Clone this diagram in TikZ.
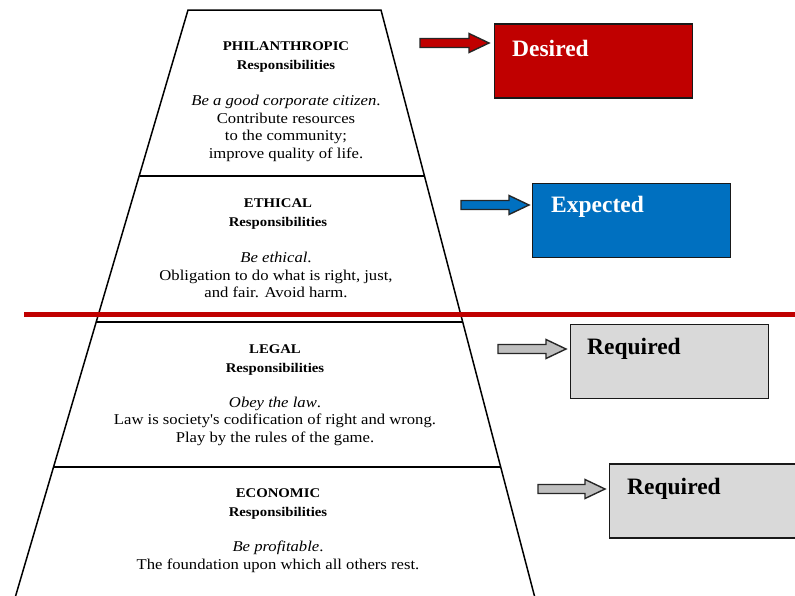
\documentclass[tikz,border=0pt]{standalone}
\usepackage{fontspec}
\setmainfont{Liberation Serif}
\newfontfamily\widefont{Liberation Serif}[FakeStretch=1.11]
\definecolor{desred}{HTML}{C00000}
\definecolor{expblue}{HTML}{0070C0}
\definecolor{reqgray}{HTML}{D9D9D9}
\definecolor{arrgray}{HTML}{BFBFBF}
\newcommand\myblkarrow[5]{% name, x start, x tip, y, fill
  \draw[blkarrow, fill=#5] (#2,#4-4.5) -- (#3-20,#4-4.5) -- (#3-20,#4-9.5) -- (#3,#4) -- (#3-20,#4+9.5) -- (#3-20,#4+4.5) -- (#2,#4+4.5) -- cycle;
  \coordinate (#1) at (#3,#4);}
\begin{document}
\begin{tikzpicture}[x=1pt,y=-1pt,
  pyr/.style={draw=black, line width=1.5pt, line join=miter},
  head/.style={font=\widefont\fontsize{13.3}{19}\selectfont\bfseries, align=center, inner sep=0pt},
  body/.style={font=\widefont\fontsize{15}{17.5}\selectfont, align=center, inner sep=0pt},
  tag/.style={draw=black!90, line width=1.7pt, minimum width=198pt, minimum height=74pt, anchor=north west, inner sep=0pt},
  taglabel/.style={font=\fontsize{23.5}{28}\selectfont\bfseries, anchor=west, inner sep=0pt},
  blkarrow/.style={draw=black!85, line width=1.4pt, line join=miter}]
\useasboundingbox (0,0) rectangle (795,595);
\clip (0,0) rectangle (795,595);
\fill[white] (0,0) rectangle (795,595);
% pyramid corners
\coordinate (t1l) at (188,10);   \coordinate (t1r) at (381,10);
\coordinate (d1l) at (139.5,176); \coordinate (d1r) at (424,176);
\coordinate (d3l) at (95.5,322); \coordinate (d3r) at (463,322);
\coordinate (d4l) at (53,467);   \coordinate (d4r) at (500.5,467);
\coordinate (bl) at (15,598);    \coordinate (br) at (535,598);
\draw[pyr] (bl) -- (t1l) -- (t1r) -- (br);
\draw[pyr] (d1l) -- (d1r);
\draw[pyr] (d3l) -- (d3r);
\draw[pyr] (d4l) -- (d4r);
% red separator
\coordinate (rl) at (24,314.5); \coordinate (rr) at (795,314.5);
\draw[draw=desred, line width=5pt] (rl) -- (rr);
% texts
\node[head] (h1) at (286,57.5) {PHILANTHROPIC\\Responsibilities};
\node[body] (b1) at (286,128.5) {\textit{Be a good corporate citizen}.\\Contribute resources\\to the community;\\improve quality of life.};
\node[head] (h2) at (278,214) {ETHICAL\\Responsibilities};
\node[body] (b2) at (276,275) {\textit{Be ethical}.\\Obligation to do what is right, just,\\and fair. Avoid harm.};
\node[head] (h3) at (275,360) {LEGAL\\Responsibilities};
\node[body] (b3) at (275,421) {\textit{Obey the law}.\\Law is society's codification of right and wrong.\\Play by the rules of the game.};
\node[head] (h4) at (278,504.5) {ECONOMIC\\Responsibilities};
\node[body] (b4) at (278,557) {\textit{Be profitable}.\\The foundation upon which all others rest.};
% tag boxes
\node[tag, fill=desred] (desired) at (493.5,23) {};
\node[taglabel, text=white] (ldesired) at (512,48) {Desired};
\node[tag, fill=expblue] (expected) at (531.5,182.5) {};
\node[taglabel, text=white] (lexpected) at (551,207) {Expected};
\node[tag, fill=reqgray] (req1) at (569.5,323.5) {};
\node[taglabel, text=black] (lreq1) at (587,348.5) {Required};
\node[tag, fill=reqgray] (req2) at (608.5,463) {};
\node[taglabel, text=black] (lreq2) at (627,488.5) {Required};
% block arrows
\myblkarrow{a1}{420}{489}{43}{desred}
\myblkarrow{a2}{461}{529}{205}{expblue}
\myblkarrow{a3}{498}{566}{349}{arrgray}
\myblkarrow{a4}{538}{605}{489}{arrgray}
\end{tikzpicture}
\end{document}
